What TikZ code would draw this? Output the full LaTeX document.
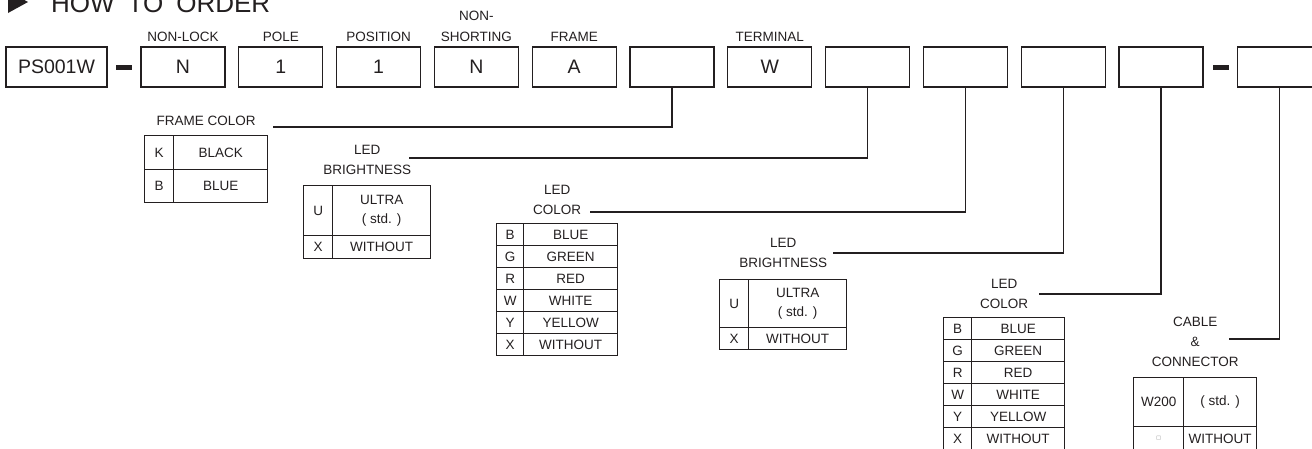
\documentclass[tikz,border=0pt]{standalone}
\usepackage{fontspec}
\setmainfont{Liberation Sans}
\newfontfamily\symfont{DejaVu Sans}
\usetikzlibrary{positioning,matrix}
\definecolor{ink}{HTML}{231F20}
\tikzset{
    part/.style =   {rectangle,
                    draw=ink,
                    text=ink,
                    line width=1.2pt,
                    minimum width=84pt,
                    minimum height=40pt,
                    inner sep=0pt,
                    font=\fontsize{19.5}{22}\selectfont},
    head/.style =   {text=ink,
                    inner xsep=1pt,
                    inner ysep=4.5pt,
                    align=center,
                    font=\fontsize{13.5}{21}\selectfont},
    hyphen/.style = {rectangle,
                    fill=ink,
                    minimum width=16pt,
                    minimum height=5pt,
                    inner sep=0pt},
    tbl/.style =    {matrix of nodes,
                    inner sep=0pt,
                    anchor=north west,
                    column sep=-0.9pt,
                    row sep=-0.9pt,
                    nodes={rectangle,
                          anchor=center,
                          draw=ink,
                          text=ink,
                          line width=0.9pt,
                          inner sep=0pt,
                          font=\fontsize{13.5}{19}\selectfont}},
    ttl/.style =    {text=ink,
                    inner sep=1pt,
                    align=center,
                    font=\fontsize{13.5}{20}\selectfont},
    conn/.style =   {draw=ink,
                    line width=1.1pt}}

\begin{document}
\begin{tikzpicture}[x=1pt,y=-1pt,node distance=12.6pt]
    \useasboundingbox (0,0) rectangle (1312,448);
    \clip (0,0) rectangle (1312,448);

    % heading
    \fill[ink] (8,-9) -- (8,13) -- (28,2) -- cycle;
    \node[text=ink,inner sep=0pt,anchor=base west,font=\fontsize{26}{30}\selectfont] (how) at (51,12) {HOW\hspace{13pt}TO\hspace{13pt}ORDER};

    % part number boxes
    \node[part,minimum width=101pt] (pn) at (56.5,67)                       {PS001W};
    \node[hyphen]   (h1) at (124,67)                                        {};
    \node[part]     (p1) at (183,67) [label={[head]above:NON-LOCK}]         {N};
    \node[part]     (p2) [right=of p1,label={[head]above:POLE}]             {1};
    \node[part]     (p3) [right=of p2,label={[head]above:POSITION}]         {1};
    \node[part]     (p4) [right=of p3,label={[head]above:{NON-\\SHORTING}}] {N};
    \node[part]     (p5) [right=of p4,label={[head]above:FRAME}]            {A};
    \node[part]     (p6) [right=of p5]                                      {};
    \node[part]     (p7) [right=of p6,label={[head]above:TERMINAL}]         {W};
    \node[part]     (p8) [right=of p7]                                      {};
    \node[part]     (p9) [right=of p8]                                      {};
    \node[part]     (p10) [right=of p9]                                     {};
    \node[part]     (p11) [right=of p10]                                    {};
    \node[hyphen]   (h2) [right=9pt of p11]                                 {};
    \node[part]     (p12) [right=7.5pt of h2]                               {};

    % option tables
    \matrix (fc) [tbl,column 1/.style={nodes={minimum width=29pt}},column 2/.style={nodes={minimum width=94pt}},nodes={minimum height=33.5pt}] at (144,135) {
        K & BLACK \\
        B & BLUE \\
    };
    \node[ttl] (fcT) [above=8pt of fc] {FRAME COLOR};

    \matrix (b1) [tbl,column 1/.style={nodes={minimum width=29pt}},column 2/.style={nodes={minimum width=98pt}},row 1/.style={nodes={minimum height=50pt}},row 2/.style={nodes={minimum height=23pt}}] at (303,185) {
        U & \begin{tabular}{@{}c@{}}ULTRA\\( std. )\end{tabular} \\
        X & WITHOUT \\
    };
    \node[ttl] (b1T) [above=9pt of b1] {LED\\BRIGHTNESS};

    \matrix (c1) [tbl,column 1/.style={nodes={minimum width=27pt}},column 2/.style={nodes={minimum width=94pt}},nodes={minimum height=22pt}] at (496,223) {
        B & BLUE \\
        G & GREEN \\
        R & RED \\
        W & WHITE \\
        Y & YELLOW \\
        X & WITHOUT \\
    };
    \node[ttl] (c1T) [above=7pt of c1] {LED\\COLOR};

    \matrix (b2) [tbl,column 1/.style={nodes={minimum width=29pt}},column 2/.style={nodes={minimum width=98pt}},row 1/.style={nodes={minimum height=48pt}},row 2/.style={nodes={minimum height=22pt}}] at (719,279) {
        U & \begin{tabular}{@{}c@{}}ULTRA\\( std. )\end{tabular} \\
        X & WITHOUT \\
    };
    \node[ttl] (b2T) [above=10pt of b2] {LED\\BRIGHTNESS};

    \matrix (c2) [tbl,column 1/.style={nodes={minimum width=28pt}},column 2/.style={nodes={minimum width=93pt}},nodes={minimum height=22pt}] at (943,317) {
        B & BLUE \\
        G & GREEN \\
        R & RED \\
        W & WHITE \\
        Y & YELLOW \\
        X & WITHOUT \\
    };
    \node[ttl] (c2T) [above=7pt of c2] {LED\\COLOR};

    \matrix (cb) [tbl,column 1/.style={nodes={minimum width=50pt}},column 2/.style={nodes={minimum width=73pt}},row 1/.style={nodes={minimum height=49pt}},row 2/.style={nodes={minimum height=24pt}}] at (1133,377) {
        W200 & ( std. ) \\
        |[text=gray,font=\symfont\fontsize{5}{6}\selectfont]| □ & WITHOUT \\
    };
    \node[ttl] (cbT) [above=9pt of cb] {CABLE\\\&\\CONNECTOR};

    % leader lines
    \coordinate (fcE) at (273,127);
    \coordinate (b1E) at (409,158);
    \coordinate (c1E) at (590,212);
    \coordinate (b2E) at (833,253);
    \coordinate (c2E) at (1039,294);
    \coordinate (cbE) at (1229,339);
    \draw[conn] (p6.south) |- (fcE);
    \draw[conn] (p8.south) |- (b1E);
    \draw[conn] (p9.south) |- (c1E);
    \draw[conn] (p10.south) |- (b2E);
    \draw[conn] (p11.south) |- (c2E);
    \draw[conn] (p12.south) |- (cbE);
\end{tikzpicture}
\end{document}
